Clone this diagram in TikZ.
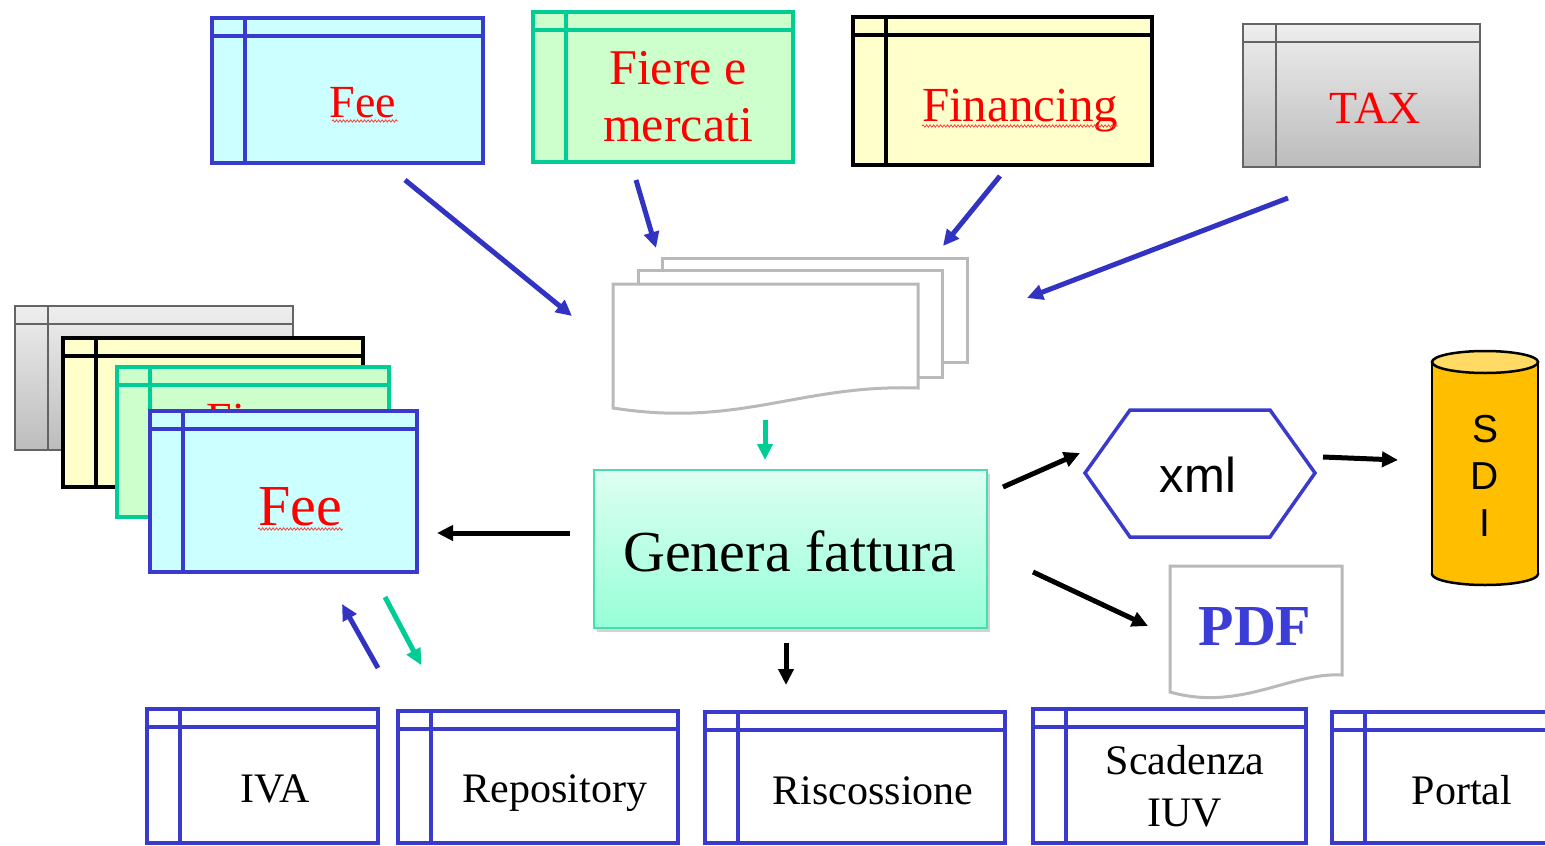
\documentclass[tikz,border=0pt]{standalone}
\usepackage{fontspec}
\setmainfont{Liberation Serif}
\newfontfamily\sansfam{Liberation Sans}
\usetikzlibrary{arrows.meta,fit,shadows,decorations.pathmorphing}
\definecolor{tblue}{RGB}{58,58,204}
\definecolor{ablue}{RGB}{50,50,195}
\definecolor{tgreen}{RGB}{0,204,150}
\definecolor{fcyan}{RGB}{204,255,255}
\definecolor{fgreen}{RGB}{204,255,204}
\definecolor{fyellow}{RGB}{255,255,204}
\definecolor{tgray}{RGB}{100,100,100}
\definecolor{gtop}{RGB}{238,238,238}
\definecolor{gbot}{RGB}{188,188,188}
\definecolor{ftop}{RGB}{222,255,242}
\definecolor{fbot}{RGB}{150,255,216}
\definecolor{fbord}{RGB}{70,222,175}
\definecolor{docgray}{RGB}{185,185,185}
\definecolor{sdibody}{RGB}{255,190,0}
\definecolor{sditop}{RGB}{255,218,100}
\definecolor{pdfblue}{RGB}{60,60,215}
\begin{document}
\begin{tikzpicture}
  [x=1pt,y=-1pt,
   tbl/.style 2 args={draw=#1, line width=#2, inner sep=0pt, path picture={
     \draw[#1, line width=#2]
       ([xshift=33pt]path picture bounding box.north west) -- ([xshift=33pt]path picture bounding box.south west)
       ([yshift=-18pt]path picture bounding box.north west) -- ([yshift=-18pt]path picture bounding box.north east);}},
   lbl/.style={text=red, inner sep=0pt, align=center, font=\fontsize{46}{57}\selectfont},
   blk/.style={inner sep=0pt, align=center, font=\fontsize{42}{52}\selectfont},
   wavy/.style={red!80, line width=0.7pt, decorate, decoration={snake, amplitude=1.2pt, segment length=3.5pt}},
   doc/.style={draw=docgray, fill=white, line width=3pt, line join=miter},
   arr/.style={line width=5pt, -{Triangle[length=16pt,width=15pt]}}]
  \useasboundingbox (0,0) rectangle (1545,846);
  % top tables
  \node[tbl={tblue}{4pt}, fill=fcyan, fit={(212,18) (483,163)}] (fee) {};
  \node[lbl, anchor=base] (feeT) at (363,117) {Fee};
  \node[tbl={tgreen}{4pt}, fill=fgreen, fit={(533,12) (793,162)}] (fiere) {};
  \node[lbl, font=\fontsize{50}{57}\selectfont] (fiereT) at (678,97) {Fiere e\\mercati};
  \node[tbl={black}{4pt}, fill=fyellow, fit={(853,17) (1152,165)}] (fin) {};
  \node[lbl, anchor=base, font=\fontsize{49}{57}\selectfont] (finT) at (1020,121) {Financing};
  \node[tbl={tgray}{2pt}, top color=gtop, bottom color=gbot, fit={(1243,24) (1480,167)}] (tax) {};
  \node[lbl, anchor=base] (taxT) at (1375,123) {TAX};
  \draw[wavy] (332,121) -- (398,121);
  \draw[wavy] (922,126) -- (1118,126);
  % invoices
  \filldraw[doc] (662,258) rectangle (967,362);
  \filldraw[doc] (638,270) rectangle (942,377);
  \filldraw[doc] (613,284) -- (918,284) -- (918,388) .. controls (800,384) and (740,428) .. (613,408) -- cycle;
  % left stack
  \node[tbl={tgray}{2pt}, top color=gtop, bottom color=gbot, fit={(15,306) (293,450)}] (tax2) {};
  \node[tbl={black}{4pt}, fill=fyellow, fit={(63,338) (363,487)}] (fin2) {};
  \node[tbl={tgreen}{4pt}, fill=fgreen, fit={(117,367) (389,517)}] (fiere2) {};
  \node[lbl, anchor=north] (fiere2T) at (270,404) {Fiere e};
  \node[tbl={tblue}{4pt}, fill=fcyan, fit={(150,411) (417,572)}] (fee2) {};
  \node[lbl, anchor=base, font=\fontsize{58}{64}\selectfont] (fee2T) at (300,525) {Fee};
  \draw[wavy] (258,529) -- (343,529);
  % generator
  \node[fit={(594,470) (987,628)}, inner sep=0pt, draw=fbord, line width=2pt, top color=ftop, bottom color=fbot,
        drop shadow={shadow xshift=3pt, shadow yshift=-4pt, opacity=.35}] (gen) {};
  \node[inner sep=0pt, anchor=base, font=\fontsize{58}{64}\selectfont] (genT) at (790,571) {Genera fattura};
  % xml, SDI, PDF
  \draw[tblue, line width=3.5pt, line join=miter] (1085,473) -- (1130,410) -- (1270,410) -- (1315,473) -- (1270,537) -- (1130,537) -- cycle;
  \node[inner sep=0pt, anchor=base, font=\sansfam\fontsize{49}{56}\selectfont] (xml) at (1198,492) {xml};
  \filldraw[draw=black, fill=sdibody, line width=2.5pt] (1485,574) ellipse [x radius=53, y radius=11];
  \fill[sdibody] (1432,362) rectangle (1538,574);
  \draw[line width=2.5pt] (1432,362) -- (1432,574) (1538,362) -- (1538,574);
  \filldraw[draw=black, fill=sditop, line width=2.5pt] (1485,362) ellipse [x radius=53, y radius=11];
  \node[inner sep=0pt, align=center, font=\sansfam\fontsize{39}{47}\selectfont] (sdi) at (1485,476) {S\\D\\I};
  \filldraw[doc] (1170,566) -- (1342,566) -- (1342,675) .. controls (1290,672) and (1240,712) .. (1170,692) -- cycle;
  \node[inner sep=0pt, anchor=base, text=pdfblue, font=\bfseries\fontsize{58}{64}\selectfont] (pdf) at (1255,645) {PDF};
  % bottom tables
  \node[tbl={tblue}{3.5pt}, fit={(147,709) (378,843)}] (iva) {};
  \node[blk, anchor=base] (ivaT) at (275,802) {IVA};
  \node[tbl={tblue}{3.5pt}, fit={(398,711) (678,843)}] (repo) {};
  \node[blk, anchor=base] (repoT) at (555,802) {Repository};
  \node[tbl={tblue}{3.5pt}, fit={(705,712) (1005,843)}] (risc) {};
  \node[blk, anchor=base] (riscT) at (873,804) {Riscossione};
  \node[tbl={tblue}{3.5pt}, fit={(1033,709) (1306,843)}] (scad) {};
  \node[blk] (scadT) at (1185,786) {Scadenza\\IUV};
  \node[tbl={tblue}{3.5pt}, fit={(1332,712) (1575,843)}] (portal) {};
  \node[blk, anchor=base] (portalT) at (1462,804) {Portal};
  % arrows
  \coordinate (a1) at (405,180);  \coordinate (b1) at (572,316);
  \coordinate (a2) at (636,180);  \coordinate (b2) at (656,248);
  \coordinate (a3) at (1000,176); \coordinate (b3) at (943,246);
  \coordinate (a4) at (1288,198); \coordinate (b4) at (1027,298);
  \coordinate (c1) at (765,420);  \coordinate (d1) at (765,460);
  \coordinate (e1) at (570,533);  \coordinate (f1) at (437,533);
  \coordinate (e2) at (1003,487); \coordinate (f2) at (1080,453);
  \coordinate (e3) at (1323,457); \coordinate (f3) at (1398,460);
  \coordinate (e4) at (1033,572); \coordinate (f4) at (1148,626);
  \coordinate (e5) at (786,643);  \coordinate (f5) at (786,685);
  \coordinate (g1) at (378,668);  \coordinate (h1) at (342,604);
  \coordinate (g2) at (385,597);  \coordinate (h2) at (421,665);
  \foreach \from/\to/\col in {a1/b1/ablue,a2/b2/ablue,a3/b3/ablue,a4/b4/ablue,c1/d1/tgreen,e1/f1/black,
      e2/f2/black,e3/f3/black,e4/f4/black,e5/f5/black,g1/h1/ablue,g2/h2/tgreen}
    \draw[arr, color=\col] (\from) -- (\to);
\end{tikzpicture}
\end{document}
